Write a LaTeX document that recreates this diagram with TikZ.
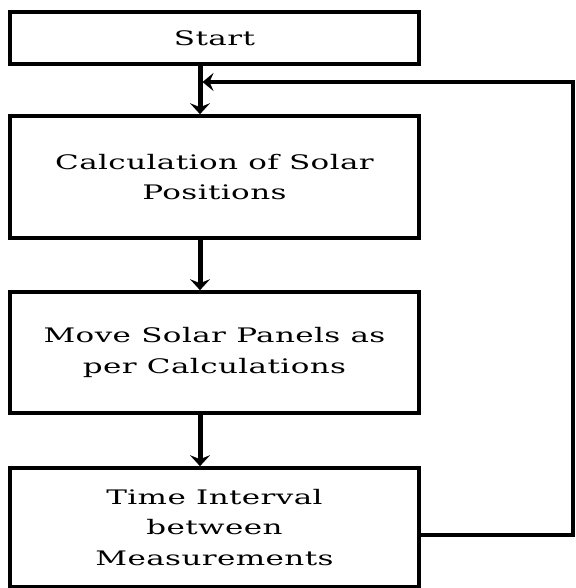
\documentclass[tikz,border=0pt]{standalone}
\usepackage{fontspec}
\setmainfont{DejaVu Serif}[FakeStretch=1.55, LetterSpace=2]
\usepackage{tikz}
\usetikzlibrary{arrows.meta}

\begin{document}
\begin{tikzpicture}[x=1pt,y=1pt]

% Stili
\tikzset{
  passo/.style={draw=black, line width=3.6pt, minimum width=409pt,
    align=center, inner sep=0pt, font=\fontsize{20}{30.5}\selectfont},
  freccia/.style={line width=5pt, -{Stealth[length=11pt,width=20pt,inset=4pt]}},
  ritorno/.style={line width=3.6pt, -{Stealth[length=11pt,width=18pt,inset=4pt]}}
}

% Margini dell'immagine
\useasboundingbox (0,0) rectangle (575,588);

% Blocchi
\node[passo, minimum height=52pt] (start) at (214.5,550) {Start};
\node[passo, minimum height=122pt] (calc) at (214.5,411) {Calculation of Solar\\Positions};
\node[passo, minimum height=121pt] (move) at (214.5,235.5) {Move Solar Panels as\\per Calculations};
\node[passo, minimum height=119pt] (time) at (214.5,60.5) {Time Interval\\between\\Measurements};

% Punto di rientro
\coordinate (join) at (200,506);

% Frecce principali
\draw[freccia] (start.south -| join) -- (calc.north -| join);
\draw[freccia] (calc.south -| join) -- (move.north -| join);
\draw[freccia] (move.south -| join) -- (time.north -| join);

% Ciclo di ritorno
\draw[ritorno] ([yshift=-7.5pt]time.east) -- (573,53) |- ([xshift=2.5pt]join);

\end{tikzpicture}
\end{document}
